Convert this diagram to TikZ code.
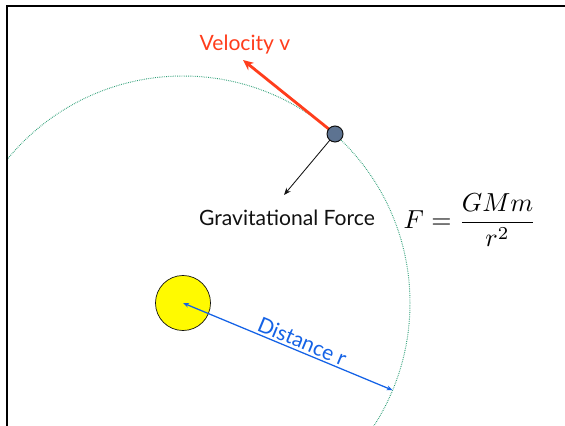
\documentclass[tikz,border=0pt]{standalone}
\usepackage{fontspec}
\newfontfamily\gvsans{Lato}
\usetikzlibrary{arrows.meta}
\definecolor{gvink}{HTML}{111111}
\definecolor{gvframe}{HTML}{000000}
\definecolor{gvvel}{HTML}{FF3D1C}
\definecolor{gvdist}{HTML}{1462E6}
\definecolor{gvorbit}{HTML}{2A9D74}
\definecolor{gvplanet}{HTML}{5D7391}
\definecolor{gvsun}{HTML}{FFFA00}
\tikzset{
  gvbody/.style={
    circle,
    draw=gvink,
    line width=0.5pt,
    inner sep=0pt
  },
  gvsunbody/.style={gvbody, fill=gvsun, minimum size=1.375cm},
  gvplanetbody/.style={gvbody, fill=gvplanet, line width=0.7pt, minimum size=0.4cm},
  gvlabel/.style={
    font=\gvsans\fontsize{15}{18}\selectfont,
    inner sep=1pt,
    text=gvink
  },
  gvorbitline/.style={
    draw=gvorbit,
    line width=0.7pt,
    dash pattern=on 0.5pt off 0.8pt
  },
  gvvelocity/.style={
    -{Stealth[length=2.6mm,width=2.3mm]},
    line width=2pt,
    color=gvvel
  },
  gvpull/.style={
    -{Stealth[length=1.8mm,width=1.4mm]},
    line width=0.6pt,
    color=gvink
  },
  gvdistance/.style={
    {Stealth[length=1.5mm,width=1.2mm]}-{Stealth[length=1.5mm,width=1.2mm]},
    line width=0.9pt,
    color=gvdist
  }
}
\begin{document}
\begin{tikzpicture}[x=0.025cm,y=-0.025cm]
  \useasboundingbox (0,0) rectangle (565,426);

  % orbit, clipped to the frame
  \begin{scope}
    \clip (8,7) rectangle (565,426);
    \draw[gvorbitline] (183,303) circle[radius=227];
  \end{scope}
  \draw[gvframe, line width=1.9pt] (7,426) -- (7,6) -- (565,6);

  \node[gvsunbody] (sun) at (183,303) {};
  \coordinate (rend) at (392.6,390.2);
  \coordinate (vtip) at (243,60);
  \coordinate (ftip) at (284,195);

  \draw[gvvelocity] (335,134) -- (vtip);
  \draw[gvpull] (335,134) -- (ftip);
  \node[gvplanetbody] (planet) at (335,134) {};

  \draw[gvdistance] (sun.center) -- (rend)
    node[pos=0.55, above, sloped, gvlabel, text=gvdist, inner sep=1.5pt] (rlabel) {Distance r};

  \node[gvlabel, text=gvvel] (vlabel) at (245,45) {Velocity v};
  \node[gvlabel] (flabel) at (287,218) {Gravitational Force};
  \node[scale=1.85, inner sep=0pt] (law) at (470,220) {$\displaystyle F=\frac{GMm}{r^2}$};
\end{tikzpicture}
\end{document}
